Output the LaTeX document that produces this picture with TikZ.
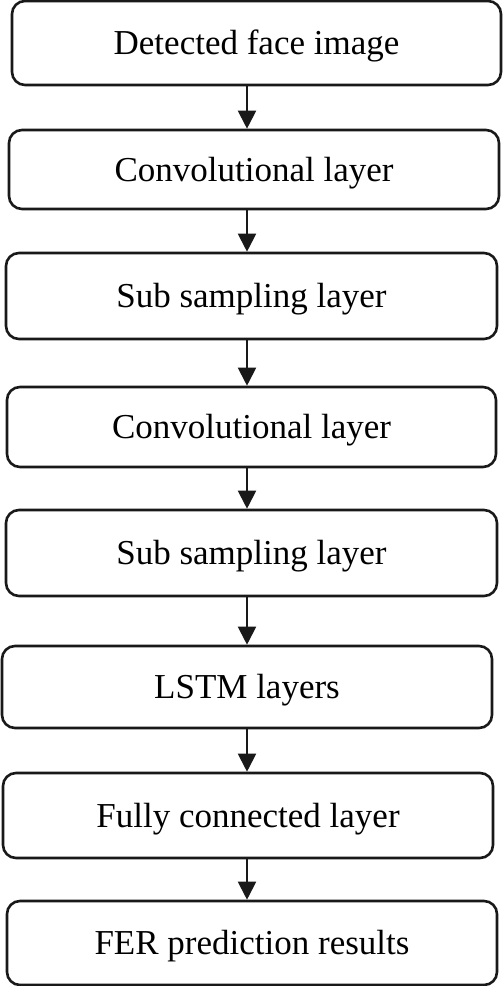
\documentclass[tikz,border=0pt]{standalone}
\usepackage{fontspec}
\setmainfont{Liberation Serif}
\usetikzlibrary{arrows.meta}
\begin{document}
\begin{tikzpicture}[x=1pt,y=1pt,
  box/.style={draw=black!90, line width=2.6pt, rounded corners=13pt, fill=white,
    font=\fontsize{35}{40}\selectfont, text height=23.2pt, text depth=0pt,
    inner sep=0pt, align=center},
  arr/.style={draw=black!90, line width=2pt, -{Triangle[length=18pt,width=18pt]}}]
\useasboundingbox (0,0) rectangle (503,-986);
\fill[white] (0,0) rectangle (503,-986);
\node[box, minimum width=489, minimum height=84] (b1) at (256.5,-43) {Detected face image};
\node[box, minimum width=490, minimum height=79] (b2) at (254,-169.5) {Convolutional layer};
\node[box, minimum width=491, minimum height=86] (b3) at (251.5,-296) {Sub sampling layer};
\node[box, minimum width=489, minimum height=80] (b4) at (251.5,-427) {Convolutional layer};
\node[box, minimum width=491, minimum height=86] (b5) at (251.5,-553) {Sub sampling layer};
\node[box, minimum width=490, minimum height=82] (b6) at (247,-687) {LSTM layers};
\node[box, minimum width=490, minimum height=85] (b7) at (248,-815.5) {Fully connected layer};
\node[box, minimum width=490, minimum height=84] (b8) at (252,-943) {FER prediction results};
\coordinate (ax) at (247,0);
\foreach \a/\b in {b1/b2,b2/b3,b3/b4,b4/b5,b5/b6,b6/b7,b7/b8}
  \draw[arr] (\a.south -| ax) -- (\b.north -| ax);
\end{tikzpicture}
\end{document}
